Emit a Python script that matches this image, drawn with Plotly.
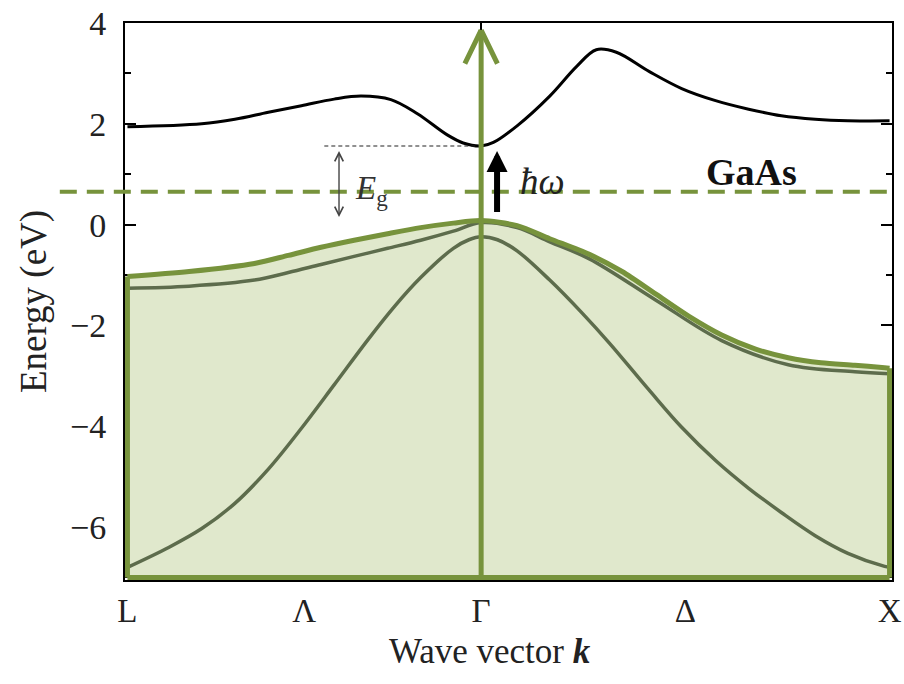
import plotly.graph_objects as go

# ---- data ----
tick_k = [-0.866, -0.433, 0.0, 0.5, 1.0]
tick_labels = ["L", "Λ", "Γ", "Δ", "X"]

# conduction band
k_cb = [-0.866, -0.684, -0.603, -0.521, -0.440, -0.360, -0.294, -0.221, -0.156, -0.083, -0.044,
        0.0, 0.030, 0.088, 0.168, 0.234, 0.282, 0.331, 0.411, 0.491, 0.574, 0.655, 0.735, 0.818, 0.898, 1.0]
e_cb = [1.94, 2.00, 2.09, 2.23, 2.36, 2.49, 2.55, 2.48, 2.20, 1.78, 1.62,
        1.56, 1.63, 1.96, 2.55, 3.14, 3.47, 3.42, 3.04, 2.70, 2.46, 2.29, 2.16, 2.09, 2.06, 2.06]

# heavy-hole (top valence) band
k_hh = [-0.866, -0.715, -0.555, -0.472, -0.392, -0.311, -0.229, -0.148, -0.068, 0.0,
        0.088, 0.168, 0.265, 0.345, 0.428, 0.509, 0.589, 0.672, 0.752, 0.832, 0.915, 0.988, 1.0]
e_hh = [-1.03, -0.93, -0.77, -0.61, -0.45, -0.31, -0.18, -0.06, 0.03, 0.08,
        -0.02, -0.28, -0.59, -0.93, -1.38, -1.82, -2.19, -2.47, -2.64, -2.74, -2.79, -2.84, -2.85]

# light-hole band
k_lh = [-0.866, -0.715, -0.555, -0.472, -0.392, -0.311, -0.229, -0.148, -0.068, 0.0,
        0.088, 0.168, 0.265, 0.428, 0.589, 0.752, 0.915, 1.0]
e_lh = [-1.26, -1.22, -1.10, -0.95, -0.79, -0.63, -0.47, -0.31, -0.13, 0.04,
        -0.06, -0.34, -0.68, -1.50, -2.30, -2.78, -2.92, -2.96]

# split-off band
k_so = [-0.866, -0.764, -0.684, -0.603, -0.521, -0.440, -0.360, -0.277, -0.214, -0.148, -0.068, -0.030,
        0.0, 0.040, 0.088, 0.168, 0.248, 0.314, 0.411, 0.491, 0.574, 0.655, 0.735, 0.818, 0.898, 0.988, 1.0]
e_so = [-6.80, -6.40, -6.03, -5.53, -4.85, -4.04, -3.18, -2.28, -1.64, -1.05, -0.47, -0.30,
        -0.24, -0.30, -0.52, -1.10, -1.76, -2.35, -3.28, -4.02, -4.68, -5.23, -5.71, -6.17, -6.52, -6.78, -6.80]

e_min, e_max = -7.0, 4.0
fermi_level = 0.65
arrow_top = 3.86
hw_x, hw_from = 0.039, 0.22
eg_x, eg_low = -0.348, 0.12
eg_line_start = -0.384

GREEN = "#77933c"
FILL = "#e0e8cc"
VB = "#5d6c4c"
FONT = "Liberation Serif"

k_left, k_right = k_hh[0], k_hh[-1]

fig = go.Figure()

# baseline of the shaded valence region (bottom border)
fig.add_trace(go.Scatter(x=[k_left, k_right], y=[e_min, e_min], mode="lines",
                         line=dict(color=GREEN, width=5), hoverinfo="skip", showlegend=False))
# shaded valence region up to the top valence band
fig.add_trace(go.Scatter(x=k_hh, y=e_hh, mode="lines", fill="tonexty", fillcolor=FILL,
                         line=dict(color=GREEN, width=0.1, shape="spline", smoothing=0.8),
                         hoverinfo="skip", showlegend=False))

fig.add_trace(go.Scatter(x=k_so, y=e_so, mode="lines",
                         line=dict(color=VB, width=3.5, shape="spline", smoothing=1.0),
                         showlegend=False))
fig.add_trace(go.Scatter(x=k_lh, y=e_lh, mode="lines",
                         line=dict(color=VB, width=3.5, shape="spline", smoothing=1.0),
                         showlegend=False))
# side borders of the shaded region
fig.add_trace(go.Scatter(x=[k_left, k_left, None, k_right, k_right],
                         y=[e_min, e_hh[0], None, e_min, e_hh[-1]], mode="lines",
                         line=dict(color=GREEN, width=5), hoverinfo="skip", showlegend=False))
# top band border
fig.add_trace(go.Scatter(x=k_hh, y=e_hh, mode="lines",
                         line=dict(color=GREEN, width=5, shape="spline", smoothing=0.8),
                         showlegend=False))
fig.add_trace(go.Scatter(x=k_cb, y=e_cb, mode="lines",
                         line=dict(color="black", width=3, shape="spline", smoothing=1.0),
                         showlegend=False))
# invisible trace on top axis to activate it
fig.add_trace(go.Scatter(x=[k_left, k_right], y=[e_min, e_min], xaxis="x2",
                         mode="lines", line=dict(width=0), hoverinfo="skip", showlegend=False))

gap_level = e_cb[k_cb.index(0.0)]

fig.add_shape(type="line", xref="paper", yref="y", x0=-0.085, x1=1.0,
              y0=fermi_level, y1=fermi_level,
              line=dict(color=GREEN, width=4, dash="17px,10px"))
fig.add_shape(type="line", xref="x", yref="y", x0=eg_line_start, x1=0.0,
              y0=gap_level, y1=gap_level,
              line=dict(color="#222", width=1.2, dash="4px,3px"))

annotations = [
    # green vertical arrow (shaft + open chevron head)
    dict(x=0.0, y=arrow_top, ax=0.0, ay=e_min, xref="x", yref="y", axref="x", ayref="y",
         text="", showarrow=True, arrowhead=0, arrowwidth=5, arrowcolor=GREEN),
    dict(x=0.0, y=arrow_top, ax=-17, ay=35, xref="x", yref="y",
         text="", showarrow=True, arrowhead=0, arrowwidth=5, arrowcolor=GREEN),
    dict(x=0.0, y=arrow_top, ax=17, ay=35, xref="x", yref="y",
         text="", showarrow=True, arrowhead=0, arrowwidth=5, arrowcolor=GREEN),
    # photon arrow
    dict(x=hw_x, y=gap_level - 0.1, ax=hw_x, ay=hw_from, xref="x", yref="y", axref="x", ayref="y",
         text="", showarrow=True, arrowhead=2, arrowsize=0.7, arrowwidth=6, arrowcolor="black"),
    # band-gap double arrow
    dict(x=eg_x, y=gap_level - 0.1, ax=eg_x, ay=eg_low, xref="x", yref="y", axref="x", ayref="y",
         text="", showarrow=True, arrowhead=5, arrowside="end+start", arrowsize=1.2,
         arrowwidth=1.4, arrowcolor="#444"),
    dict(x=-0.314, y=0.67, xref="x", yref="y", xanchor="left", yanchor="middle",
         text="<i>E</i><sub>g</sub>", showarrow=False,
         font=dict(family=FONT, size=33, color="#333")),
    dict(x=0.151, y=0.85, xref="x", yref="y", xanchor="center", yanchor="middle",
         text="<i>ħω</i>", showarrow=False, font=dict(family=FONT, size=37, color="#222")),
    dict(x=0.662, y=1.05, xref="x", yref="y", xanchor="center", yanchor="middle",
         text="<b>GaAs</b>", showarrow=False, font=dict(family=FONT, size=38, color="#111")),
    # x-axis title
    dict(x=0.476, y=-0.1275, xref="paper", yref="paper", xanchor="center", yanchor="middle",
         text="Wave vector <b><i>k</i></b>", showarrow=False,
         font=dict(family=FONT, size=35, color="#222")),
]

pad_k = 0.006
pad_e = 0.05

fig.update_layout(
    template="none",
    width=904, height=684,
    margin=dict(l=125, r=12, t=23, b=104),
    paper_bgcolor="white", plot_bgcolor="white",
    font=dict(family=FONT, size=34, color="#222"),
    annotations=annotations,
    showlegend=False,
    xaxis=dict(range=[k_left - pad_k, k_right + pad_k], tickvals=tick_k, ticktext=tick_labels,
               ticks="", showline=True, linecolor="black", linewidth=2, mirror=True,
               showgrid=False, zeroline=False, ticklabelstandoff=0, automargin=False,
               layer="below traces",
               tickfont=dict(family=FONT, size=33, color="#222")),
    xaxis2=dict(range=[k_left - pad_k, k_right + pad_k], overlaying="x", side="top",
                tickvals=[0.0], ticks="inside", ticklen=10, tickwidth=2, tickcolor="black",
                showticklabels=False, showgrid=False, zeroline=False, showline=False,
                automargin=False),
    yaxis=dict(range=[e_min - pad_e, e_max], dtick=2, tick0=0, ticks="inside", ticklen=11, tickwidth=2,
               tickcolor="black", showline=True, linecolor="black", linewidth=2, mirror="ticks",
               showgrid=False, zeroline=False, ticklabelstandoff=10, automargin=False,
               layer="below traces",
               minor=dict(dtick=1, ticks="inside", ticklen=6, tickwidth=1.5, tickcolor="black",
                          showgrid=False),
               tickfont=dict(family=FONT, size=34, color="#222"),
               title=dict(text="Energy (eV)", standoff=12,
                          font=dict(family=FONT, size=37, color="#222"))),
)

fig.write_html("out.html", config={"displayModeBar": False},
               post_script="document.body.style.margin='0';document.body.style.padding='0';")
